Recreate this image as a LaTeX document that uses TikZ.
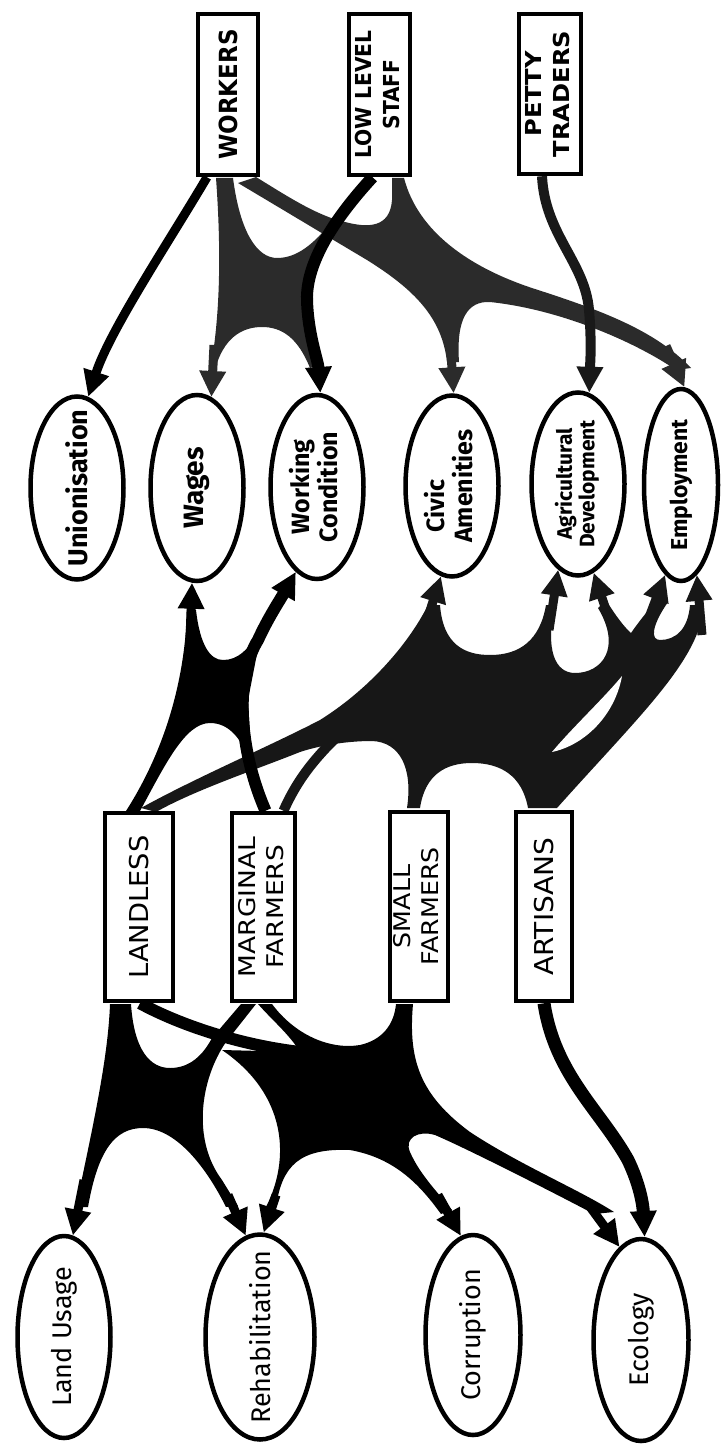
\documentclass[tikz,border=0pt]{standalone}
\usepackage{fontspec}
\usepackage{graphicx}
\setmainfont{Fira Sans}
\newfontfamily\capsfont{DejaVu Sans}
\usetikzlibrary{shapes.geometric,arrows.meta}
\pgfdeclarelayer{paper}
\pgfdeclarelayer{links}
\pgfsetlayers{paper,links,main}
\colorlet{topink}{black!83}
\colorlet{midink}{black!91}
% text set upright along the long side of a shape, taking no room itself
\newcommand\uprot[1]{\rotatebox{90}{\makebox[0pt]{#1}}}
\newcommand\twolines[1]{\begin{tabular}{@{}c@{}}#1\end{tabular}}

\begin{document}
\begin{tikzpicture}[x=1pt,y=-1pt,
  frame/.style={draw, line width=4.5pt, inner sep=0pt, fill=white},
  oval/.style={ellipse, draw, line width=4.5pt, inner sep=0pt, fill=white},
  headed/.style={-{Triangle[length=26pt,width=25pt]}},
  flow/.style={headed, line width=9pt},
  topcaps/.style={font=\capsfont\bfseries\fontsize{#1}{28}\selectfont},
  lowcaps/.style={font=\capsfont\fontsize{#1}{28}\selectfont},
  topword/.style={font=\bfseries\fontsize{#1}{#1}\selectfont},
  lowword/.style={font=\fontsize{#1}{#1}\selectfont}]

\begin{pgfonlayer}{paper}
  \fill[white] (0,0) rectangle (722,1447);
\end{pgfonlayer}
\useasboundingbox (0,0) rectangle (722,1447);

% ---------- groups (boxes) ----------
\node[frame, minimum width=60pt, minimum height=161pt, topcaps=25] (workers) at (228,94.5)
  {\uprot{\scalebox{0.92}[1]{WORKERS}}};
\node[frame, minimum width=61pt, minimum height=161pt, topcaps=22] (lowstaff) at (379.5,94.5)
  {\uprot{\scalebox{0.92}[1]{\twolines{LOW LEVEL\\STAFF}}}};
\node[frame, minimum width=62pt, minimum height=160pt, topcaps=22] (petty) at (550,94)
  {\uprot{\scalebox{1.1}[1]{\twolines{PETTY\\TRADERS}}}};
\node[frame, minimum width=68pt, minimum height=188pt, lowcaps=26] (landless) at (139,907)
  {\uprot{\scalebox{1.05}[1]{LANDLESS}}};
\node[frame, minimum width=63pt, minimum height=188pt, lowcaps=23] (marginal) at (263.5,907)
  {\uprot{\scalebox{1.15}[1]{\twolines{MARGINAL\\FARMERS}}}};
\node[frame, minimum width=58pt, minimum height=189pt, lowcaps=23] (smallf) at (419,906.5)
  {\uprot{\scalebox{1.1}[1]{\twolines{SMALL\\FARMERS}}}};
\node[frame, minimum width=56pt, minimum height=189pt, lowcaps=26] (artisans) at (544,906.5)
  {\uprot{\scalebox{1.08}[1]{ARTISANS}}};

% ---------- issues (ovals) ----------
\node[oval, minimum width=93pt, minimum height=183pt, topword=27] (unionisation) at (77,488)
  {\uprot{Unionisation}};
\node[oval, minimum width=93pt, minimum height=186pt, topword=28] (wages) at (197,488)
  {\uprot{Wages}};
\node[oval, minimum width=93pt, minimum height=184pt, font=\bfseries\fontsize{25}{24}\selectfont] (workcond) at (317,487)
  {\uprot{\twolines{Working\\Condition}}};
\node[oval, minimum width=93pt, minimum height=181pt, font=\bfseries\fontsize{25}{24}\selectfont] (civic) at (452,486)
  {\uprot{\begin{tabular}{@{}l@{}}\hspace{10pt}Civic\\Amenities\end{tabular}}};
\node[oval, minimum width=93pt, minimum height=183pt, font=\bfseries\fontsize{21}{22}\selectfont] (agric) at (578,484)
  {\uprot{\twolines{Agricultural\\Development}}};
\node[oval, minimum width=74pt, minimum height=192pt, topword=23] (employment) at (681,485)
  {\uprot{Employment}};
\node[oval, minimum width=93pt, minimum height=202pt, lowword=27] (landusage) at (64,1337)
  {\uprot{Land Usage}};
\node[oval, minimum width=109pt, minimum height=205pt, lowword=27] (rehab) at (260,1337)
  {\uprot{Rehabilitation}};
\node[oval, minimum width=95pt, minimum height=200pt, lowword=27] (corruption) at (473,1335)
  {\uprot{Corruption}};
\node[oval, minimum width=95pt, minimum height=202pt, lowword=27] (ecology) at (641,1340)
  {\uprot{Ecology}};

\begin{pgfonlayer}{links}
% ===== upper groups to issues =====
\draw[flow] ([xshift=-21pt]workers.south) .. controls (170,240) and (110,330) .. (unionisation.83);

% workers + low level staff -> wages, working condition
\fill[topink] (216,178) -- (233,178) .. controls (240,232) and (257,258) .. (277,258)
  .. controls (298,258) and (314,243) .. (332,222) -- (316,262)
  .. controls (309,290) and (306,330) .. (316,365) -- (310,368)
  .. controls (298,338) and (282,327) .. (262,327)
  .. controls (240,327) and (224,340) .. (216,366) -- (211,366)
  .. controls (219,320) and (222,260) .. (216,178) -- cycle;
\draw[flow, topink] (214,345) -- (wages.81);

% workers + low level staff -> civic amenities, employment
\fill[topink] (256,177) .. controls (290,198) and (318,216) .. (345,222)
  .. controls (368,228) and (390,228) .. (392,200) -- (392,178) -- (404,178)
  .. controls (418,232) and (470,268) .. (535,289)
  .. controls (600,310) and (655,330) .. (691,368) -- (676,370)
  .. controls (640,345) and (565,310) .. (490,302)
  .. controls (468,301) and (456,318) .. (459,362) -- (447,362)
  .. controls (442,318) and (415,290) .. (367,260)
  .. controls (330,238) and (275,205) .. (238,183) -- cycle;
\draw[flow, topink] (450,338) -- (civic.89);
\draw[flow, topink] (666,346) -- (employment.88);

\draw[flow, line width=12pt] ([xshift=-7pt]lowstaff.south) .. controls (335,218) and (306,262) .. (307,300)
  .. controls (308,335) and (318,360) .. (workcond.88);
\draw[flow, line width=10pt, black!90] ([xshift=-8pt]petty.south) .. controls (545,235) and (585,262) .. (589,310)
  .. controls (592,345) and (590,365) .. (agric.83);

% ===== middle groups to issues =====
% landless + marginal farmers -> wages, working condition
\fill (126,811) -- (140,811) .. controls (165,765) and (185,723) .. (210,723)
  .. controls (230,723) and (243,740) .. (252,768) -- (248,700) -- (262,628)
  .. controls (248,650) and (238,660) .. (223,660)
  .. controls (210,660) and (200,645) .. (196,610) -- (187,610)
  .. controls (185,680) and (165,750) .. (126,811) -- cycle;
\draw[flow] (190,640) -- (wages.267);

% the wide web towards civic amenities, agriculture and employment
\fill[midink] (141,808) .. controls (195,778) and (270,746) .. (320,720)
  .. controls (368,690) and (408,645) .. (428,605) -- (440,605)
  .. controls (443,645) and (465,655) .. (490,655)
  .. controls (520,655) and (540,640) .. (546,605) -- (555,605)
  .. controls (545,650) and (555,673) .. (575,673)
  .. controls (602,673) and (622,648) .. (598,608) -- (606,600)
  .. controls (615,615) and (625,628) .. (631,633)
  .. controls (640,620) and (650,608) .. (657,600) -- (668,602)
  .. controls (652,625) and (650,640) .. (660,640)
  .. controls (675,640) and (688,630) .. (690,605) -- (704,605)
  .. controls (700,660) and (640,715) .. (557,808) -- (528,808)
  .. controls (522,775) and (500,763) .. (472,763)
  .. controls (445,763) and (425,775) .. (420,808) -- (407,808)
  .. controls (413,768) and (400,742) .. (372,741)
  .. controls (345,741) and (318,746) .. (300,752)
  .. controls (255,770) and (195,790) .. (156,812) -- cycle;
\fill[white] (622,676) .. controls (604,698) and (572,728) .. (552,752)
  .. controls (585,745) and (615,715) .. (622,676) -- cycle;
\draw[midink, line width=10pt] ([xshift=20pt]marginal.north) .. controls (295,785) and (310,762) .. (342,732);
\draw[flow, midink] (424,630) -- (civic.263);
\draw[flow, midink] (549,630) -- (agric.257);
\draw[flow, midink] (612,628) -- (agric.280);
\draw[flow, midink] (645,628) -- (employment.260);
\draw[flow, midink] (702,635) -- (employment.280);

\draw[flow, line width=12pt] ([xshift=2pt]marginal.north) .. controls (237,745) and (236,675) .. (258,640)
  .. controls (268,618) and (280,600) .. (workcond.256);

% ===== lower groups to issues =====
% landless + marginal farmers -> land usage, rehabilitation
\fill (110,1004) -- (131,1004) .. controls (134,1050) and (150,1068) .. (170,1068)
  .. controls (190,1068) and (203,1055) .. (212,1038) -- (241,1004) -- (256,1004)
  -- (226,1042) .. controls (200,1080) and (192,1140) .. (222,1180) -- (238,1206) -- (226,1207)
  .. controls (205,1165) and (175,1128) .. (143,1128)
  .. controls (115,1128) and (98,1150) .. (88,1207) -- (76,1207)
  .. controls (92,1130) and (108,1060) .. (110,1004) -- cycle;
\draw[flow] (84,1180) -- (landusage.85);
\draw[flow] (228,1195) -- (rehab.98);

% landless + marginal + small farmers -> rehabilitation, corruption, ecology
\draw[line width=12pt] ([xshift=1pt]landless.south) .. controls (180,1025) and (240,1045) .. (300,1052);
\fill (258,1004) -- (272,1004) .. controls (295,1035) and (330,1050) .. (360,1045)
  .. controls (382,1040) and (394,1025) .. (396,1004) -- (413,1004)
  .. controls (408,1060) and (420,1095) .. (470,1132)
  .. controls (520,1165) and (580,1190) .. (614,1212) -- (594,1214)
  .. controls (560,1196) and (470,1150) .. (435,1135)
  .. controls (418,1130) and (404,1138) .. (410,1152)
  .. controls (420,1175) and (440,1195) .. (452,1210) -- (441,1214)
  .. controls (420,1185) and (395,1158) .. (350,1150)
  .. controls (300,1148) and (282,1165) .. (276,1207) -- (266,1207)
  .. controls (290,1160) and (288,1095) .. (222,1050) -- (300,1052)
  .. controls (290,1035) and (272,1020) .. (258,1004) -- cycle;
\draw[flow] (276,1195) -- (rehab.88);
\draw[flow] (438,1195) -- (corruption.97);
\draw[flow] (585,1200) -- (ecology.103);

\draw[flow, line width=13pt] (artisans.south) .. controls (555,1075) and (600,1110) .. (628,1160)
  .. controls (640,1185) and (643,1205) .. (ecology.88);
\end{pgfonlayer}
\end{tikzpicture}
\end{document}
